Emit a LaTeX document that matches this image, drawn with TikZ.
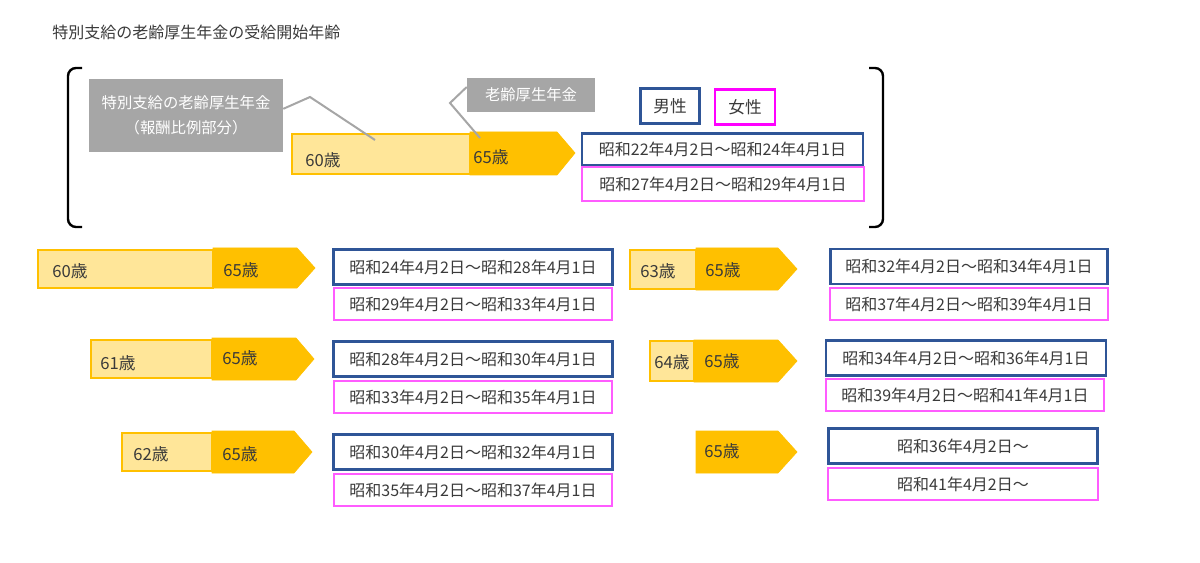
\documentclass[tikz,border=0pt]{standalone}
\usepackage{fontspec}
\setmainfont{Noto Sans CJK JP}
\usepackage{tikz}
\definecolor{gold}{HTML}{FFC000}
\definecolor{lightgold}{HTML}{FFE699}
\definecolor{navy}{HTML}{2F5597}
\definecolor{pinkline}{HTML}{FF5CFF}
\definecolor{magline}{HTML}{FF00FF}
\definecolor{greybox}{HTML}{A6A6A6}
\definecolor{ink}{HTML}{3A3A3A}
\tikzstyle{fig}=[x=0.75pt, y=-0.75pt, text=ink]
\tikzstyle{partbar}=[draw=gold, fill=lightgold, line width=1.4pt]
\tikzstyle{fullbar}=[draw=gold, fill=gold, line width=0.5pt]
\tikzstyle{age}=[anchor=west, inner sep=0pt, font=\fontsize{12.5}{14}\selectfont]
\tikzstyle{male}=[rectangle, draw=navy, line width=1.8pt, fill=white, minimum width=209pt, minimum height=26pt, inner sep=0pt, font=\fontsize{12}{14}\selectfont]
\tikzstyle{female}=[male, draw=pinkline, line width=1.5pt, minimum height=24pt]
\tikzstyle{grynote}=[rectangle, fill=greybox, text=white, inner sep=0pt, align=center, font=\fontsize{11.5}{19}\selectfont]
\tikzstyle{leader}=[draw=greybox, line width=1.5pt]
\tikzstyle{paren}=[line width=1.8pt, rounded corners=6pt]

\begin{document}
\begin{tikzpicture}[fig]
	\useasboundingbox (0,0) rectangle (1200,563);
	\draw (52,32) node[anchor=west, inner sep=0pt, font=\fontsize{12}{14}\selectfont] (title) {特別支給の老齢厚生年金の受給開始年齢};

	% upper group in brackets
	\draw[paren] (82,68) -- (68,68) -- (68,227) -- (82,227);
	\draw[paren] (869,68) -- (883,68) -- (883,227) -- (869,227);
	\draw (186,115.5) node[grynote, minimum width=145.5pt, minimum height=54.75pt] (g1) {特別支給の老齢厚生年金\\（報酬比例部分）};
	\draw (531,95) node[grynote, minimum width=96pt, minimum height=25.5pt] (g2) {老齢厚生年金};
	\draw[partbar] (292,134) rectangle (470,174);
	\draw[fullbar] (470,132) -- (557,132) -- (575,153) -- (557,175) -- (470,175) -- cycle;
	\draw (305,160) node[age] (a0) {60歳};
	\draw (473,157) node[age] (b0) {65歳};
	\coordinate (k1) at (310,97);
	\coordinate (p1) at (375,140);
	\coordinate (k2) at (450,103);
	\coordinate (p2) at (480,138);
	\draw[leader] ([yshift=5pt]g1.east) -- (k1) -- (p1);
	\draw[leader] ([yshift=6pt]g2.west) -- (k2) -- (p2);
	\draw (670,106) node[male, minimum width=44pt, minimum height=26pt, font=\fontsize{12.5}{14}\selectfont] (men) {男性};
	\draw (745,107) node[male, draw=magline, minimum width=45pt, minimum height=26pt, font=\fontsize{12.5}{14}\selectfont] (women) {女性};
	\draw (722.5,149.5) node[male, minimum width=211pt, minimum height=24pt] (m0) {昭和22年4月2日～昭和24年4月1日};
	\draw (723,184) node[female, minimum width=211pt, minimum height=25pt] (f0) {昭和27年4月2日～昭和29年4月1日};

	% left column
	\draw[partbar] (38,250) rectangle (213,288);
	\draw[fullbar] (213,248) -- (297,248) -- (315,268) -- (297,288) -- (213,288) -- cycle;
	\draw (52,271) node[age] (a1) {60歳};
	\draw (223,270) node[age] (b1) {65歳};
	\draw (473,267) node[male] (m1) {昭和24年4月2日～昭和28年4月1日};
	\draw (473,304) node[female] (f1) {昭和29年4月2日～昭和33年4月1日};

	\draw[partbar] (91,340) rectangle (212,378);
	\draw[fullbar] (212,338) -- (296,338) -- (314,359) -- (296,380) -- (212,380) -- cycle;
	\draw (100,363) node[age] (a2) {61歳};
	\draw (222,358) node[age] (b2) {65歳};
	\draw (473,359) node[male] (m2) {昭和28年4月2日～昭和30年4月1日};
	\draw (473,397) node[female] (f2) {昭和33年4月2日～昭和35年4月1日};

	\draw[partbar] (122,433) rectangle (212,471);
	\draw[fullbar] (212,431) -- (294,431) -- (312,452) -- (294,473) -- (212,473) -- cycle;
	\draw (133,454) node[age] (a3) {62歳};
	\draw (222,454) node[age] (b3) {65歳};
	\draw (473,452) node[male] (m3) {昭和30年4月2日～昭和32年4月1日};
	\draw (473,490) node[female] (f3) {昭和35年4月2日～昭和37年4月1日};

	% right column
	\draw[partbar] (630,250) rectangle (696,289);
	\draw[fullbar] (696,248) -- (778,248) -- (797,269) -- (778,290) -- (696,290) -- cycle;
	\draw (640,271) node[age] (a4) {63歳};
	\draw (705,270) node[age] (b4) {65歳};
	\draw (969,266.5) node[male, minimum width=208pt] (m4) {昭和32年4月2日～昭和34年4月1日};
	\draw (969,304) node[female, minimum width=209pt] (f4) {昭和37年4月2日～昭和39年4月1日};

	\draw[partbar] (650,341) rectangle (694,381);
	\draw[fullbar] (694,340) -- (778,340) -- (797,361) -- (778,382) -- (694,382) -- cycle;
	\draw (654,362) node[age] (a5) {64歳};
	\draw (704,361) node[age] (b5) {65歳};
	\draw (966,358) node[male, minimum width=210pt] (m5) {昭和34年4月2日～昭和36年4月1日};
	\draw (965,395) node[female, minimum width=209pt] (f5) {昭和39年4月2日～昭和41年4月1日};

	\draw[fullbar] (696,431) -- (778,431) -- (797,452) -- (778,473) -- (696,473) -- cycle;
	\draw (704,451) node[age] (b6) {65歳};
	\draw (963,446) node[male, minimum width=202pt] (m6) {昭和36年4月2日～};
	\draw (963,484) node[female, minimum width=202pt] (f6) {昭和41年4月2日～};
\end{tikzpicture}
\end{document}
